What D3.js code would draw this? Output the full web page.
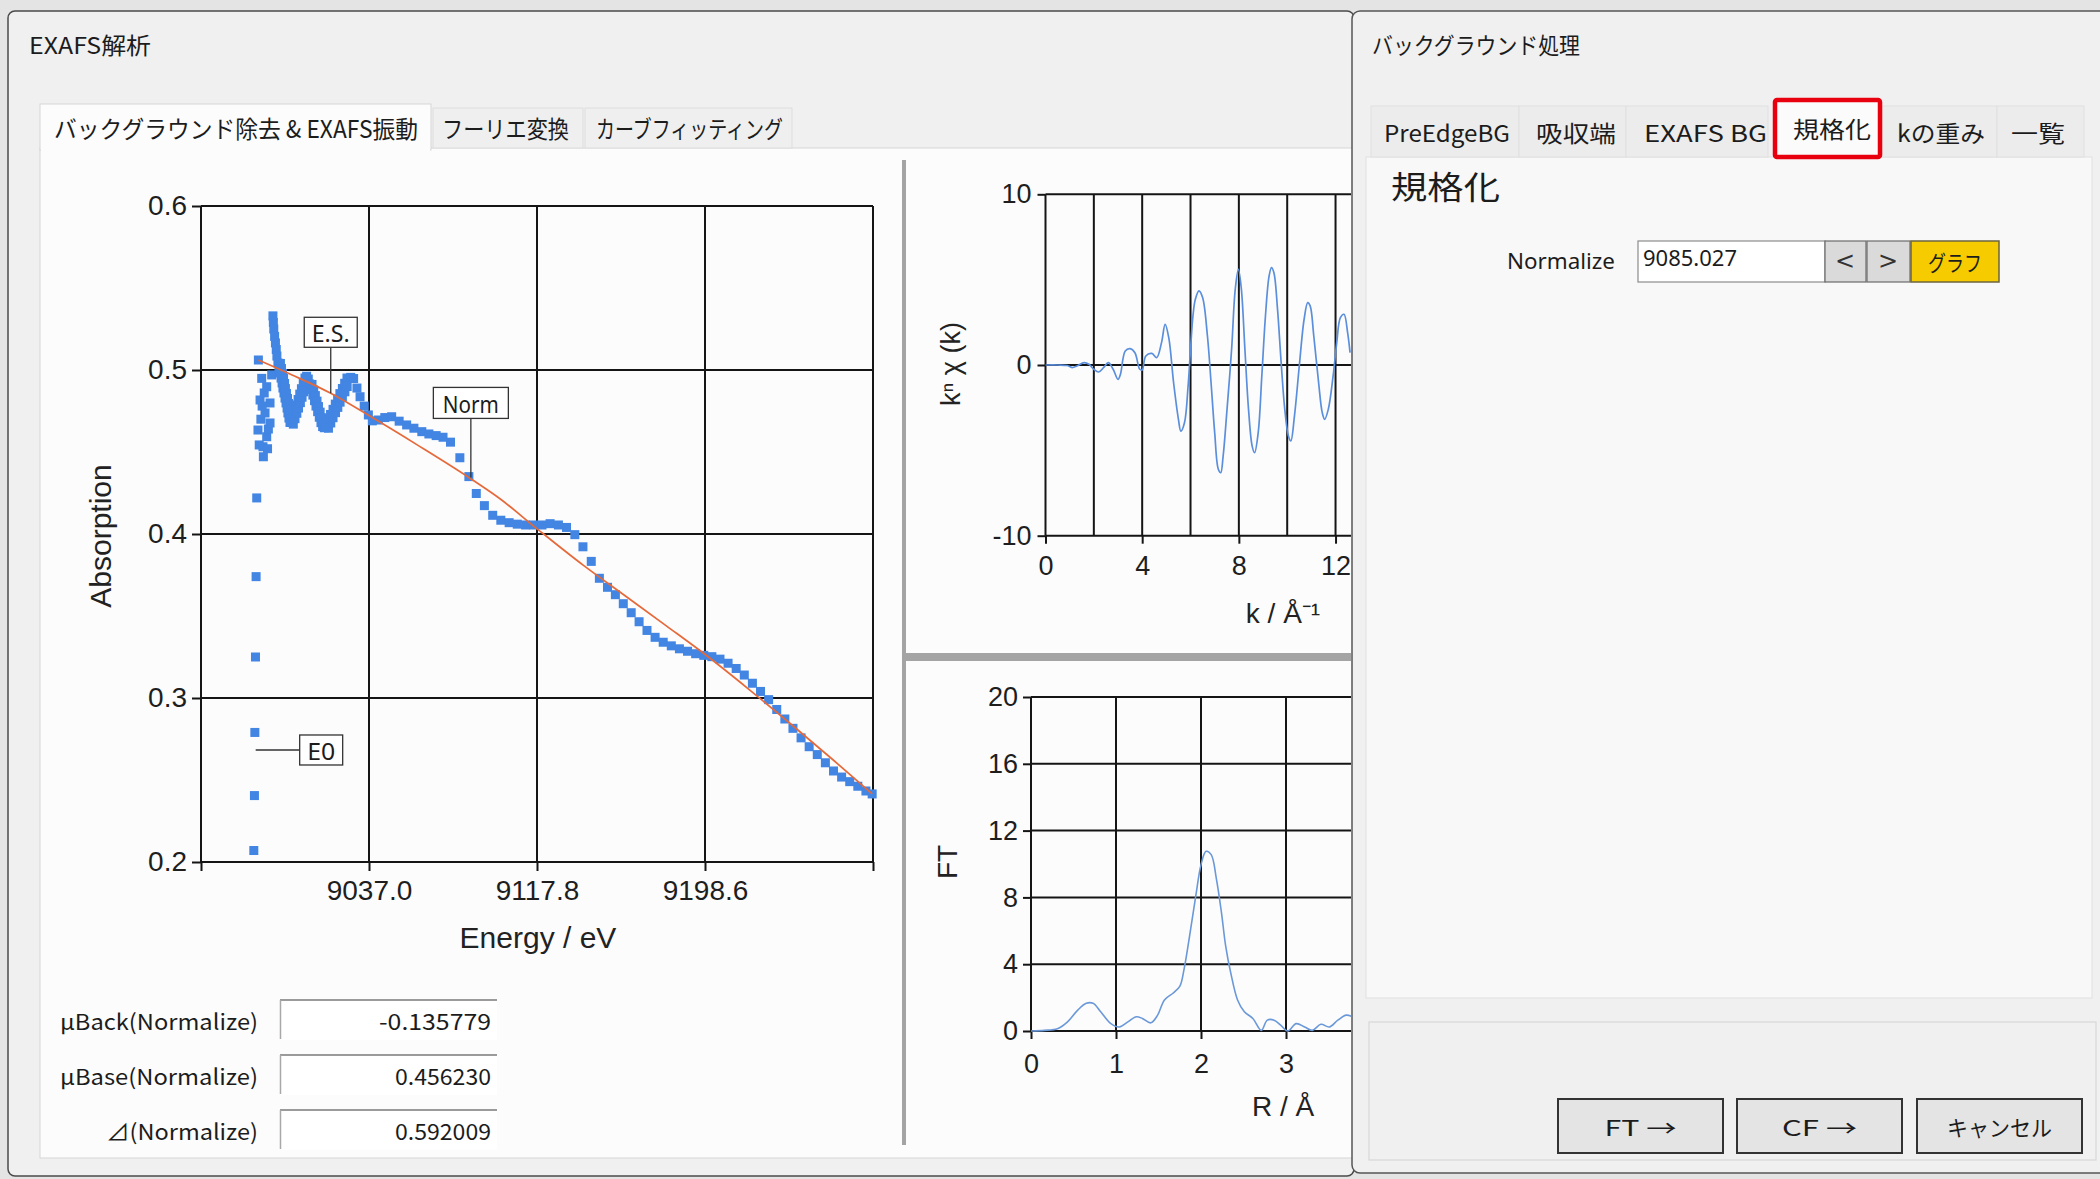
<!DOCTYPE html>
<html>
<head>
<meta charset="utf-8">
<script src="https://cdn.jsdelivr.net/npm/d3@7"></script>
<style>
  body { margin: 0; background: #e6e6e6; overflow: hidden; }
  svg { display: block; }
</style>
</head>
<body>
<svg id="screen" width="2100" height="1179"></svg>
<script>
// ---------- data ----------
// measured absorption: [energy / eV, absorption]
const absorption = [
  [8981.6,0.2070],[8981.9,0.2405],[8982.1,0.2790],[8982.4,0.3250],[8982.7,0.3740],[8983.0,0.4220],
  [8983.6,0.4634],[8983.8,0.5061],[8984.2,0.4543],[8984.6,0.4817],[8985.0,0.4700],[8985.4,0.4949],
  [8986.0,0.4532],[8986.2,0.4471],[8986.6,0.4860],[8987.0,0.4738],[8987.8,0.4593],[8987.8,0.4898],
  [8988.6,0.4640],[8989.4,0.4677],[8989.4,0.4799],[8990.2,0.4970],[8988.2,0.4520],[8985.6,0.4780],
  [8990.8,0.5330],[8991.0,0.5290],[8991.2,0.5250],[8991.6,0.5205],[8992.0,0.5165],[8992.4,0.5125],[8992.7,0.5085],
  [8993.2,0.5043],[8993.7,0.5012],[8994.2,0.4982],[8994.7,0.4951],[8995.2,0.4921],[8995.6,0.4890],
  [8996.1,0.4860],[8996.6,0.4829],[8997.1,0.4799],[8997.6,0.4768],[8998.0,0.4738],[8998.5,0.4707],[8999.0,0.4680],
  [8994.4,0.5040],[8994.9,0.5009],[8995.4,0.4979],[8995.9,0.4948],[8996.4,0.4918],[8996.8,0.4887],
  [8997.3,0.4857],[8997.8,0.4826],[8998.3,0.4796],[8998.8,0.4765],[8999.2,0.4735],[8999.7,0.4704],
  [8999.5,0.4689],[9000.3,0.4722],[9001.2,0.4755],[9002.0,0.4787],[9002.9,0.4820],[9003.7,0.4853],
  [9004.5,0.4886],[9005.4,0.4918],[9006.2,0.4951],[9007.0,0.4962],[9007.8,0.4945],
  [9000.6,0.4670],[9001.4,0.4703],[9002.3,0.4736],[9003.1,0.4768],[9004.0,0.4801],[9004.8,0.4834],
  [9005.6,0.4867],[9006.5,0.4899],[9007.3,0.4930],
  [9008.4,0.4915],[9009.2,0.4881],[9010.0,0.4847],[9010.8,0.4813],[9011.5,0.4780],[9012.3,0.4746],
  [9013.1,0.4712],[9013.9,0.4679],[9014.7,0.4655],[9015.5,0.4648],
  [9009.6,0.4912],[9010.4,0.4878],[9011.2,0.4844],[9012.0,0.4810],[9012.7,0.4777],[9013.5,0.4743],
  [9014.3,0.4709],[9015.1,0.4676],
  [9016.3,0.4665],[9017.4,0.4697],[9018.5,0.4729],[9019.7,0.4760],[9020.8,0.4792],[9021.9,0.4824],
  [9023.0,0.4856],[9024.2,0.4887],[9025.3,0.4919],[9026.4,0.4951],
  [9017.5,0.4645],[9018.6,0.4677],[9019.7,0.4709],[9020.9,0.4740],[9022.0,0.4772],[9023.1,0.4804],
  [9024.2,0.4836],[9025.4,0.4867],[9026.5,0.4899],
  [9028.2,0.4955],[9029.6,0.4948],[9031.2,0.4890],[9032.7,0.4837],[9034.7,0.4780],[9036.7,0.4726],
  [9038.6,0.4690],[9041.5,0.4695],[9044.6,0.4710],[9047.9,0.4715],[9051.5,0.4688],[9055.1,0.4665],
  [9058.6,0.4645],[9062.4,0.4624],[9065.8,0.4610],[9069.3,0.4600],[9072.6,0.4590],[9076.2,0.4560],
  [9080.7,0.4465],[9085.03,0.4350],[9088.6,0.4247],[9092.5,0.4173],[9096.5,0.4114],[9100.4,0.4084],
  [9104.4,0.4069],[9108.3,0.4060],[9112.3,0.4055],[9116.2,0.4055],[9120.2,0.4055],[9124.1,0.4063],
  [9128.1,0.4055],[9132.0,0.4040],[9136.0,0.3996],[9139.9,0.3922],[9143.9,0.3833],[9147.8,0.3730],
  [9151.7,0.3675],[9155.5,0.3630],[9159.3,0.3575],[9163.1,0.3520],[9166.9,0.3465],[9170.7,0.3412],
  [9174.6,0.3370],[9178.5,0.3340],[9182.4,0.3318],[9186.3,0.3300],[9190.2,0.3285],[9194.1,0.3270],
  [9198.0,0.3260],[9201.9,0.3252],[9205.8,0.3237],[9209.7,0.3212],[9213.6,0.3180],[9217.5,0.3140],
  [9221.4,0.3090],[9225.3,0.3040],[9229.2,0.2990],[9233.1,0.2930],[9237.0,0.2872],[9240.9,0.2815],
  [9244.8,0.2757],[9248.7,0.2703],[9252.6,0.2655],[9256.5,0.2605],[9260.4,0.2555],[9264.3,0.2518],
  [9268.2,0.2490],[9272.1,0.2462],[9276.0,0.2433],[9279.0,0.2415]
];

// post-edge normalisation curve: [energy / eV, absorption]
const normLine = [
  [8983.8,0.5061],[9000.0,0.4970],[9018.6,0.4858],[9037.0,0.4722],[9060.0,0.4545],[9085.0,0.4345],
  [9100.0,0.4215],[9118.0,0.4030],[9140.0,0.3810],[9160.0,0.3625],[9180.0,0.3440],[9199.0,0.3262],
  [9220.0,0.3050],[9240.0,0.2840],[9260.0,0.2625],[9279.0,0.2415]
];

const normalizeEnergy = 9085.027;

// annotated points on the absorption plot
const markers = [
  { label: "E.S.", e: 9018.6, v: 0.4858 },
  { label: "Norm", e: normalizeEnergy, v: 0.4345 },
  { label: "E0",   e: 8982.5, v: 0.2683 }
];

const energyDomain = [8956.2, 9279.4];
const energyTicks = [9037.0, 9117.8, 9198.6];
const absorptionTicks = [0.2, 0.3, 0.4, 0.5, 0.6];

// k^n chi(k): [k / 1/A, value]
const chiK = [
  [0,0],[0.5,0],[0.9,-0.03],[1.1,-0.15],[1.3,-0.06],[1.6,0.14],[1.8,0.04],[2.0,-0.25],[2.2,-0.41],
  [2.4,-0.16],[2.6,0.14],[2.8,-0.25],[3.0,-0.84],[3.1,-0.55],[3.3,0.82],[3.5,0.96],[3.7,0.72],
  [3.9,-0.25],[4.0,-0.29],[4.15,0.53],[4.4,0.68],[4.6,0.43],[4.8,1.31],[4.95,2.38],[5.1,1.6],
  [5.3,-1.04],[5.5,-3.18],[5.6,-3.87],[5.75,-3.38],[5.9,-1.23],[6.0,0.92],[6.1,2.87],[6.2,3.85],
  [6.35,4.34],[6.5,3.95],[6.7,1.7],[6.85,-1.04],[7.0,-3.96],[7.15,-6.11],[7.25,-6.31],[7.35,-5.33],
  [7.5,-2.79],[7.7,0.92],[7.85,4.43],[7.98,5.6],[8.1,4.5],[8.25,0.92],[8.4,-2.6],[8.55,-4.75],
  [8.65,-5.14],[8.8,-3.96],[8.95,-0.64],[9.1,2.87],[9.25,5.21],[9.35,5.7],[9.45,5.41],[9.6,3.26],
  [9.75,0.14],[9.9,-2.6],[10.05,-4.16],[10.15,-4.45],[10.3,-2.99],[10.5,-0.06],[10.7,2.68],
  [10.85,3.65],[10.95,3.46],[11.1,1.7],[11.3,-1.04],[11.45,-2.79],[11.55,-3.18],[11.7,-2.6],
  [11.9,-0.64],[12.05,1.31],[12.2,2.77],[12.35,2.97],[12.5,1.89],[12.6,0.72]
];
const kDomain = [0, 14];
const kTicks = [0, 4, 8, 12];
const kGrid = [2, 4, 6, 8, 10, 12, 14];
const chiTicks = [-10, 0, 10];

// Fourier transform magnitude: [R / A, FT]
const ftR = [
  [0,0],[0.16,0.04],[0.31,0.14],[0.43,0.55],[0.55,1.25],[0.65,1.66],[0.73,1.66],[0.82,1.15],
  [0.94,0.44],[1.04,0.24],[1.14,0.55],[1.24,0.85],[1.31,0.75],[1.41,0.49],[1.49,0.95],[1.57,1.86],
  [1.67,2.26],[1.75,2.67],[1.80,3.68],[1.86,5.5],[1.94,8.13],[2.0,9.95],[2.06,10.76],[2.12,10.56],
  [2.18,9.14],[2.24,7.12],[2.29,5.1],[2.35,3.48],[2.43,1.86],[2.51,1.15],[2.61,0.75],[2.71,0.04],
  [2.78,0.65],[2.86,0.65],[2.94,0.34],[3.02,0.0],[3.12,0.44],[3.22,0.24],[3.31,0.04],[3.41,0.4],
  [3.51,0.24],[3.61,0.65],[3.71,0.95],[3.78,0.85]
];
const rDomain = [0, 4];
const rTicks = [0, 1, 2, 3];
const rGrid = [0, 1, 2, 3, 4];
const ftTicks = [0, 4, 8, 12, 16, 20];

const normFields = [
  ["μBack(Normalize)", "-0.135779"],
  ["μBase(Normalize)", "0.456230"],
  ["⊿(Normalize)", "0.592009"]
];
const mainTabs = ["バックグラウンド除去 & EXAFS振動", "フーリエ変換", "カーブフィッティング"];
const bgTabs = ["PreEdgeBG", "吸収端", "EXAFS BG", "規格化", "kの重み", "一覧"];
const actionButtons = ["FT →", "CF →", "キャンセル"];

// ---------- drawing ----------
const INK = "#151515";
const BLUE = "#4285e3";
const CHART_FONT = "'Liberation Sans', Arial, sans-serif";
const UI_FONT = "'Noto Sans CJK JP', 'Noto Sans', sans-serif";

const svg = d3.select("#screen");
const defs = svg.append("defs");
defs.append("clipPath").attr("id", "leftClip")
  .append("rect").attr("x", 40).attr("y", 150).attr("width", 1311).attr("height", 1006);

function uiText(g, x, y, s, size, o = {}) {
  const t = g.append("text")
    .attr("x", x).attr("y", y)
    .attr("font-size", size)
    .attr("font-family", o.family || UI_FONT)
    .attr("fill", o.fill || "#1c1c1c")
    .attr("dominant-baseline", "central")
    .attr("text-anchor", o.anchor || "start")
    .text(s);
  if (o.width) t.attr("textLength", o.width).attr("lengthAdjust", "spacingAndGlyphs");
  return t;
}
function box(g, x, y, w, h, fill, stroke, sw = 1, rx = 0) {
  return g.append("rect").attr("x", x).attr("y", y).attr("width", w).attr("height", h)
    .attr("fill", fill).attr("stroke", stroke || "none").attr("stroke-width", sw).attr("rx", rx);
}
function styleAxis(g, size) {
  g.select(".domain").remove();
  g.selectAll(".tick line").attr("stroke", INK).attr("stroke-width", 2);
  g.selectAll(".tick text").attr("font-size", size).attr("font-family", CHART_FONT).attr("fill", "#1e1e1e");
}

// screen background strip
box(svg, 0, 0, 2100, 1179, "#e4e4e4");

// ===== left window: EXAFS解析 =====
const leftWin = svg.append("g");
box(leftWin, 8, 11, 1346, 1165, "#f0f0f0", "#4a4a4a", 1.5, 7);
uiText(leftWin, 29, 44, "EXAFS解析", 23, { width: 122 });

// tab page
box(leftWin, 40, 148, 1314, 1010, "#fcfcfc", "#d6d6d6", 1);
const mainTabGeom = [[40, 391, 54, 364], [433, 150, 442, 127], [585, 207, 596, 187]];
mainTabs.forEach((t, i) => {
  const [tx, tw, lx, lw] = mainTabGeom[i];
  if (i === 0) {
    box(leftWin, tx, 104, tw, 46, "#fcfcfc", "#d6d6d6", 1);
    box(leftWin, tx + 1, 146, tw - 2, 6, "#fcfcfc");
  } else {
    box(leftWin, tx, 108, tw, 40, "#efefef", "#dddddd", 1);
  }
  uiText(leftWin, lx, 127, t, 24, { width: lw });
});

const plots = leftWin.append("g").attr("clip-path", "url(#leftClip)");

// ---- absorption vs energy ----
const x = d3.scaleLinear().domain(energyDomain).range([201, 873]);
const y = d3.scaleLinear().domain([0.2, 0.6]).range([862, 206]);
const gridE = [energyDomain[0], ...energyTicks, energyDomain[1]];

const main = plots.append("g");
main.append("g").selectAll("line").data(gridE).join("line")
  .attr("x1", d => x(d)).attr("x2", d => x(d))
  .attr("y1", y(0.6)).attr("y2", y(0.2))
  .attr("stroke", INK).attr("stroke-width", 2);
main.append("g").selectAll("line").data(absorptionTicks).join("line")
  .attr("x1", x(energyDomain[0])).attr("x2", x(energyDomain[1]))
  .attr("y1", d => y(d)).attr("y2", d => y(d))
  .attr("stroke", INK).attr("stroke-width", 2);

const mx = main.append("g").attr("transform", `translate(0,${y(0.2)})`)
  .call(d3.axisBottom(x).tickValues(gridE).tickSize(9).tickPadding(9)
    .tickFormat(d => energyTicks.includes(d) ? d3.format(".1f")(d) : ""));
styleAxis(mx, 28);
const my = main.append("g").attr("transform", `translate(${x(energyDomain[0])},0)`)
  .call(d3.axisLeft(y).tickValues(absorptionTicks).tickSize(9).tickPadding(5).tickFormat(d3.format(".1f")));
styleAxis(my, 28);

main.append("g").selectAll("rect").data(absorption).join("rect")
  .attr("x", d => x(d[0]) - 4.5).attr("y", d => y(d[1]) - 4.5)
  .attr("width", 9).attr("height", 9).attr("fill", BLUE);

main.append("path").datum(normLine)
  .attr("d", d3.line().x(d => x(d[0])).y(d => y(d[1])).curve(d3.curveMonotoneX))
  .attr("fill", "none").attr("stroke", "#e6693a").attr("stroke-width", 1.7);

// marker call-outs
const calloutGeom = {
  "E.S.": { w: 53, h: 30, tw: 38, place: "above", gap: 46, dx: 0 },
  "Norm": { w: 75, h: 31, tw: 56, place: "above", gap: 59, dx: 2 },
  "E0":   { w: 43, h: 30, tw: 28, place: "right", gap: 44, dx: 0 }
};
markers.forEach(m => {
  const g = calloutGeom[m.label];
  const px = x(m.e), py = y(m.v);
  let bx, by;
  if (g.place === "above") {
    bx = px + g.dx - g.w / 2; by = py - g.gap - g.h;
    const lx1 = px + g.dx;
    main.append("line").attr("x1", lx1).attr("y1", py - g.gap).attr("x2", lx1).attr("y2", py)
      .attr("stroke", "#333").attr("stroke-width", 1.3);
  } else {
    bx = px + g.gap; by = py - g.h / 2;
    main.append("line").attr("x1", px).attr("y1", py).attr("x2", bx).attr("y2", py)
      .attr("stroke", "#333").attr("stroke-width", 1.3);
  }
  box(main, bx, by, g.w, g.h, "#ffffff", "#333", 1.3);
  uiText(main, bx + g.w / 2, by + g.h / 2 + 1, m.label, 23,
    { anchor: "middle", width: g.tw, family: "'Noto Sans', sans-serif" });
});

main.append("text").attr("transform", "translate(100,536) rotate(-90)")
  .attr("text-anchor", "middle").attr("dominant-baseline", "central")
  .attr("font-size", 30).attr("font-family", CHART_FONT).attr("fill", "#222").text("Absorption");
main.append("text").attr("x", 538).attr("y", 937)
  .attr("text-anchor", "middle").attr("dominant-baseline", "central")
  .attr("font-size", 30).attr("font-family", CHART_FONT).attr("fill", "#222").text("Energy / eV");

// ---- k^n chi(k) ----
const kx = d3.scaleLinear().domain(kDomain).range([1045.5, 1045.5 + 14 * 24.17]);
const ky = d3.scaleLinear().domain([-10, 10]).range([535.7, 194.3]);
const kg = plots.append("g");
kg.append("g").selectAll("line").data([0, ...kGrid]).join("line")
  .attr("x1", d => kx(d)).attr("x2", d => kx(d)).attr("y1", ky(10)).attr("y2", ky(-10))
  .attr("stroke", INK).attr("stroke-width", 2);
kg.append("g").selectAll("line").data(chiTicks).join("line")
  .attr("x1", kx(0)).attr("x2", kx(kDomain[1])).attr("y1", d => ky(d)).attr("y2", d => ky(d))
  .attr("stroke", INK).attr("stroke-width", 2);
const kax = kg.append("g").attr("transform", `translate(0,${ky(-10)})`)
  .call(d3.axisBottom(kx).tickValues(kTicks).tickSize(8).tickPadding(12).tickFormat(d => String(d)));
styleAxis(kax, 27);
const kay = kg.append("g").attr("transform", `translate(${kx(0)},0)`)
  .call(d3.axisLeft(ky).tickValues(chiTicks).tickSize(8).tickPadding(6).tickFormat(d => String(d)));
styleAxis(kay, 27);
kg.append("path").datum(chiK)
  .attr("d", d3.line().x(d => kx(d[0])).y(d => ky(d[1])).curve(d3.curveCatmullRom.alpha(0.5)))
  .attr("fill", "none").attr("stroke", "#5b8fdc").attr("stroke-width", 1.7);
kg.append("text").attr("transform", "translate(951,364) rotate(-90)")
  .attr("text-anchor", "middle").attr("dominant-baseline", "central")
  .attr("font-size", 27).attr("font-family", CHART_FONT).attr("fill", "#222").text("kⁿ χ (k)");
kg.append("text").attr("x", 1283).attr("y", 613)
  .attr("text-anchor", "middle").attr("dominant-baseline", "central")
  .attr("font-size", 28).attr("font-family", CHART_FONT).attr("fill", "#222").text("k / Å⁻¹");

// ---- Fourier transform ----
const rx = d3.scaleLinear().domain(rDomain).range([1031, 1031 + 4 * 85]);
const fy = d3.scaleLinear().domain([0, 20]).range([1031, 697]);
const fg = plots.append("g");
fg.append("g").selectAll("line").data(rGrid).join("line")
  .attr("x1", d => rx(d)).attr("x2", d => rx(d)).attr("y1", fy(20)).attr("y2", fy(0))
  .attr("stroke", INK).attr("stroke-width", 2);
fg.append("g").selectAll("line").data(ftTicks).join("line")
  .attr("x1", rx(0)).attr("x2", rx(rDomain[1])).attr("y1", d => fy(d)).attr("y2", d => fy(d))
  .attr("stroke", INK).attr("stroke-width", 2);
const fax = fg.append("g").attr("transform", `translate(0,${fy(0)})`)
  .call(d3.axisBottom(rx).tickValues(rTicks).tickSize(8).tickPadding(15).tickFormat(d => String(d)));
styleAxis(fax, 27);
const fay = fg.append("g").attr("transform", `translate(${rx(0)},0)`)
  .call(d3.axisLeft(fy).tickValues(ftTicks).tickSize(8).tickPadding(5).tickFormat(d => String(d)));
styleAxis(fay, 27);
fg.append("path").datum(ftR)
  .attr("d", d3.line().x(d => rx(d[0])).y(d => fy(d[1])).curve(d3.curveCatmullRom.alpha(0.5)))
  .attr("fill", "none").attr("stroke", "#6a98d8").attr("stroke-width", 1.6);
fg.append("text").attr("transform", "translate(947,862) rotate(-90)")
  .attr("text-anchor", "middle").attr("dominant-baseline", "central")
  .attr("font-size", 28).attr("font-family", CHART_FONT).attr("fill", "#222").text("FT");
fg.append("text").attr("x", 1283).attr("y", 1106)
  .attr("text-anchor", "middle").attr("dominant-baseline", "central")
  .attr("font-size", 28).attr("font-family", CHART_FONT).attr("fill", "#222").text("R / Å");

// splitters between the plots
box(plots, 902, 160, 4, 985, "#a4a4a4");
box(plots, 904, 653, 450, 8, "#a4a4a4");

// normalisation read-outs
normFields.forEach(([label, val], i) => {
  const cy = 1020 + i * 55;
  const lw = label.startsWith("⊿") ? 152 : 198;
  uiText(leftWin, 258, cy, label, 22, { anchor: "end", width: lw });
  box(leftWin, 280, cy - 20, 217, 40, "#ffffff");
  leftWin.append("line").attr("x1", 280).attr("x2", 497).attr("y1", cy - 20).attr("y2", cy - 20)
    .attr("stroke", "#7a7a7a").attr("stroke-width", 1.5);
  leftWin.append("line").attr("x1", 280.5).attr("x2", 280.5).attr("y1", cy - 20).attr("y2", cy + 19)
    .attr("stroke", "#a8a8a8").attr("stroke-width", 1.5);
  uiText(leftWin, 491, cy, val, 22, { anchor: "end", width: val.startsWith("-") ? 112 : 96 });
});

// ===== right window: バックグラウンド処理 =====
const rightWin = svg.append("g");
box(rightWin, 1352, 11, 760, 1162, "#f0f0f0", "#555", 1.5, 8);
uiText(rightWin, 1372, 44, "バックグラウンド処理", 23, { width: 208 });

box(rightWin, 1366, 157, 726, 841, "#f8f8f8", "#e0e0e0", 1);
const bgTabGeom = [
  [1371, 148, 1384, 126], [1519, 107, 1536, 80], [1626, 142, 1644, 123],
  [1774, 106, 1793, 78], [1882, 115, 1897, 88], [1997, 87, 2011, 54]
];
bgTabs.forEach((t, i) => {
  const [tx, tw, lx, lw] = bgTabGeom[i];
  const active = i === 3;
  box(rightWin, tx, active ? 100 : 106, tw, active ? 58 : 51, active ? "#fbfbfb" : "#ececec",
    active ? "none" : "#e0e0e0", 1);
  uiText(rightWin, lx, active ? 128 : 132, t, 23, { width: lw });
});
box(rightWin, 1775, 100, 105, 57, "none", "#e8000e", 4.5, 2);

uiText(rightWin, 1391, 185, "規格化", 32, { width: 109 });
uiText(rightWin, 1615, 260, "Normalize", 22, { anchor: "end", width: 108, family: "'Noto Sans', sans-serif" });
box(rightWin, 1638, 241, 187, 41, "#ffffff", "#8c8c8c", 1.2);
uiText(rightWin, 1643, 257, d3.format(".3f")(normalizeEnergy), 22, { width: 94, family: "'Noto Sans', sans-serif" });
box(rightWin, 1825, 241, 41, 41, "#dadada", "#6c6c6c", 1.2);
box(rightWin, 1867, 241, 43, 41, "#dadada", "#6c6c6c", 1.2);
uiText(rightWin, 1845, 261, "<", 24, { anchor: "middle", family: "'DejaVu Sans', sans-serif", fill: "#333" });
uiText(rightWin, 1888, 261, ">", 24, { anchor: "middle", family: "'DejaVu Sans', sans-serif", fill: "#333" });
box(rightWin, 1911, 241, 88, 41, "#f6cc00", "#6b6440", 1.5);
uiText(rightWin, 1955, 261, "グラフ", 22, { anchor: "middle", width: 54 });

box(rightWin, 1369, 1022, 727, 138, "#f0f0f0", "#d8d8d8", 1.2);
const btnX = [1558, 1737, 1917];
const btnTW = [72, 75, 105];
actionButtons.forEach((b, i) => {
  box(rightWin, btnX[i], 1099, 165, 54, "#e4e4e4", "#333", 2);
  uiText(rightWin, btnX[i] + 82.5, 1126, b, 22, { anchor: "middle", width: btnTW[i] });
});
</script>
</body>
</html>
